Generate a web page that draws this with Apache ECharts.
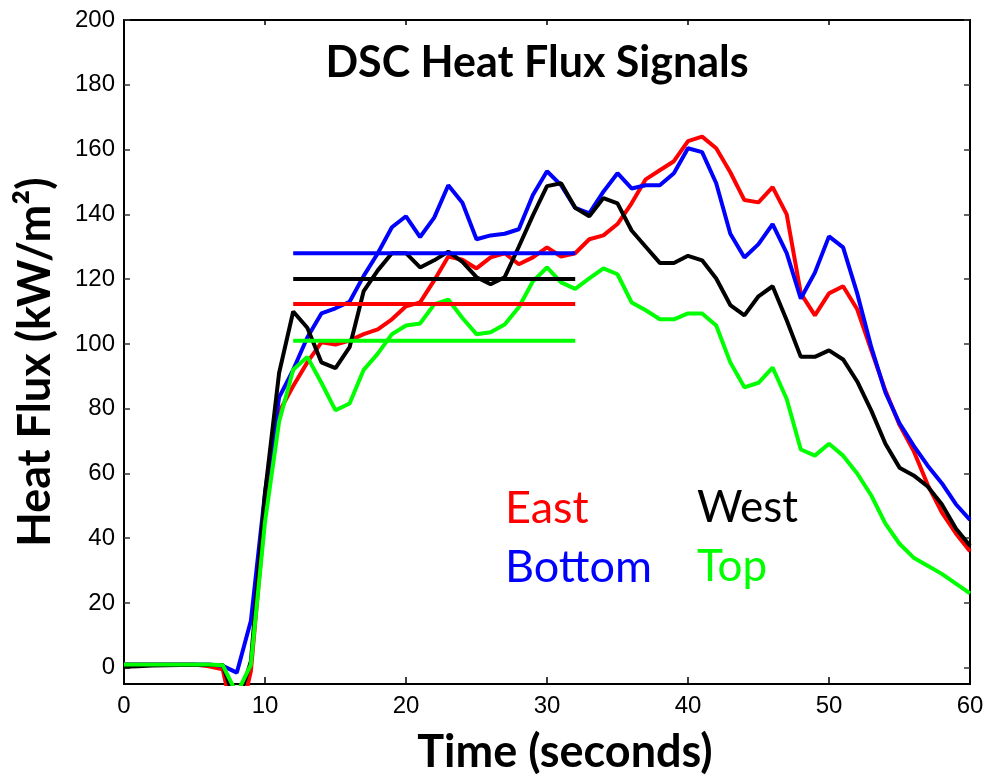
<!DOCTYPE html>
<html>
<head>
<meta charset="utf-8">
<script src="https://cdn.jsdelivr.net/npm/echarts@6/dist/echarts.min.js"></script>
<style>html,body{margin:0;padding:0;background:#fff;}#c{width:984px;height:778px;}</style>
</head>
<body>
<div id="c"></div>
<script>
// time in seconds
const timeSec = [0,1,2,3,4,5,6,7,8,9,10,11,12,13,14,15,16,17,18,19,20,21,22,23,24,25,26,27,28,29,30,31,32,33,34,35,36,37,38,39,40,41,42,43,44,45,46,47,48,49,50,51,52,53,54,55,56,57,58,59,60];
const east = [1,1,1,1,1,1,0.5,-0.5,-20,-1,48,79,87,94.3,100.5,99.8,101,103,104.5,107.6,111.6,112.8,119.6,127,126,123.3,126.7,128,124.6,126.7,129.8,127,128,132.3,133.5,137,143.4,150.8,153.6,156.4,162.6,164,160.4,153,144.4,143.7,148.4,140,115.6,108.8,115.6,117.8,110.7,98,85.6,75,67,56.5,48,41.5,36];
const bottom = [1,1,1,1,1,1,1,0.6,-1.5,14.5,54,83.5,92,102,109.4,111,113,121,128,136,139.4,133,139,149,143.6,132.3,133.5,134,135.4,146,153.3,149,142,140.3,147,152.7,148,149,149,152.7,160.4,159.2,149.6,134,126.7,130.8,137,128,114,122,133.2,129.8,115.6,99,85,75.5,68.6,62.4,57,50.5,45.7];
const west = [0.3,0.5,0.7,0.8,0.9,0.9,0.9,0.9,-12,2,54,91,110,105,94.3,92.5,99,116.3,122.7,128,128,123.6,125.8,128.5,125.3,120.6,118.4,120.6,130,139.7,148.7,149.6,142,139.4,145,143.4,135,130,125,125,127.2,125.8,120.2,112,108.8,114.7,117.8,107.3,96,96,98,95.2,88.4,79.4,69.2,61.8,59.4,56,50.5,43,37.7];
const top_ = [1,1,1,1,1,1,1,0.8,-8,1,45,76,92,96,88,79.5,81.6,92,97,103,105.7,106.3,112.2,113.7,108,103,103.6,106,111.3,119.3,123.6,119,117,120.2,123.3,121.5,112.8,110.4,107.6,107.6,109.4,109.4,105.7,94.3,86.6,88,92.7,83,67.4,65.5,69.2,65.5,60,53.2,44.5,38.3,34,31.5,29,26,23];
// average reference levels drawn from 12 s to 32 s
const avgStart = 12, avgEnd = 32;
const avgEast = 112.3, avgBottom = 128, avgWest = 120, avgTop = 101;
// ticks
const xTicks = [0,10,20,30,40,50,60];
const yTicks = [0,20,40,60,80,100,120,140,160,180,200];
const seriesNames = ['East','Bottom','West','Top'];
const colors = {East:'#ff0000', Bottom:'#0000ff', West:'#000000', Top:'#00ff00'};

const pair = (arr) => timeSec.map((t,i) => [t, arr[i]]);
const avgLine = (v) => [[avgStart, v],[avgEnd, v]];
const seriesData = {East: east, Bottom: bottom, West: west, Top: top_};
const avgData = {East: avgEast, Bottom: avgBottom, West: avgWest, Top: avgTop};

const series = [];
['East','Bottom','West','Top'].forEach(n => {
  series.push({name:n, type:'line', data: pair(seriesData[n]), showSymbol:false, symbol:'none',
    lineStyle:{color:colors[n], width:4}, clip:true, xAxisIndex:0, yAxisIndex:0});
});
['Bottom','West','East','Top'].forEach(n => {
  series.push({name:n+' avg', type:'line', data: avgLine(avgData[n]), showSymbol:false, symbol:'none',
    lineStyle:{color:colors[n], width:4}, clip:true, xAxisIndex:0, yAxisIndex:0});
});

const labelFont = {fontFamily:'"Liberation Sans", Arial, sans-serif', fontSize:24, color:'#000'};
const chart = echarts.init(document.getElementById('c'), null, {renderer:'canvas'});
chart.setOption({
  animation:false,
  backgroundColor:'#fff',
  grid:{left:124, right:14, top:20, bottom:94, show:true, borderColor:'#000', borderWidth:2, containLabel:false, outerBoundsMode:'none'},
  xAxis:[
    {type:'value', min:0, max:60, interval:10, position:'bottom',
     axisLine:{show:true, onZero:false, lineStyle:{color:'#000', width:2}},
     axisTick:{show:true, inside:true, length:7, lineStyle:{color:'#000', width:1.5}},
     axisLabel:{show:true, margin:10, ...labelFont, customValues:xTicks},
     splitLine:{show:false}},
    {type:'value', min:0, max:60, interval:10, position:'top',
     axisLine:{show:true, onZero:false, lineStyle:{color:'#000', width:2}},
     axisTick:{show:true, inside:true, length:5, lineStyle:{color:'#000', width:1.5}},
     axisLabel:{show:false}, splitLine:{show:false}}
  ],
  yAxis:[
    {type:'value', min:-5, max:200, position:'left',
     axisLine:{show:true, onZero:false, lineStyle:{color:'#000', width:2}},
     axisTick:{show:true, inside:true, length:6, customValues:yTicks, lineStyle:{color:'#333', width:1.5}},
     axisLabel:{show:true, margin:9, ...labelFont, customValues:yTicks},
     splitLine:{show:false}},
    {type:'value', min:-5, max:200, position:'right',
     axisLine:{show:true, onZero:false, lineStyle:{color:'#000', width:2}},
     axisTick:{show:true, inside:true, length:6, customValues:yTicks, lineStyle:{color:'#333', width:1.5}},
     axisLabel:{show:false}, splitLine:{show:false}}
  ],
  graphic:[
    {type:'text', x:537, y:63, style:{text:'DSC Heat Flux Signals', fill:'#000', font:'bold 43px Lato, "Open Sans", sans-serif', textAlign:'center', textVerticalAlign:'middle'}},
    {type:'text', x:565, y:752, style:{text:'Time (seconds)', fill:'#000', font:'bold 45px Lato, "Open Sans", sans-serif', textAlign:'center', textVerticalAlign:'middle'}},
    {type:'text', x:35, y:362, rotation:Math.PI/2, style:{text:'Heat Flux (kW/m²)', fill:'#000', font:'bold 45px Lato, "Open Sans", sans-serif', textAlign:'center', textVerticalAlign:'middle'}},
    {type:'text', x:505, y:508, style:{text:seriesNames[0], fill:colors.East, font:'45px Lato, "Open Sans", sans-serif', textAlign:'left', textVerticalAlign:'middle'}},
    {type:'text', x:505, y:567, style:{text:seriesNames[1], fill:colors.Bottom, font:'45px Lato, "Open Sans", sans-serif', textAlign:'left', textVerticalAlign:'middle'}},
    {type:'text', x:697, y:508, style:{text:seriesNames[2], fill:colors.West, font:'44px Lato, "Open Sans", sans-serif', textAlign:'left', textVerticalAlign:'middle'}},
    {type:'text', x:697, y:567, style:{text:seriesNames[3], fill:colors.Top, font:'44px Lato, "Open Sans", sans-serif', textAlign:'left', textVerticalAlign:'middle'}}
  ],
  series: series
});
</script>
</body>
</html>
